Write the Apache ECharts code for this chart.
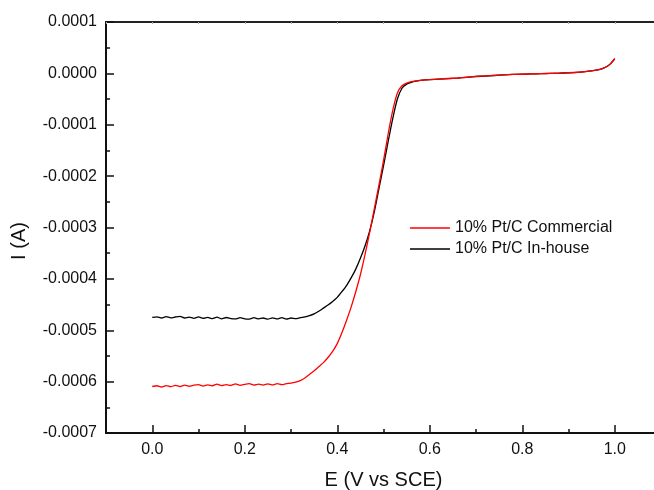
<!DOCTYPE html>
<html>
<head>
<meta charset="utf-8">
<script src="https://cdn.jsdelivr.net/npm/echarts@6/dist/echarts.min.js"></script>
<style>
  html, body { margin: 0; padding: 0; background: #fff; }
  #chart { width: 654px; height: 490px; }
</style>
</head>
<body>
<div id="chart"></div>
<script>
// Linear sweep voltammetry of two 10% Pt/C catalysts (current vs potential)
const potentialV = [
  0.00, 0.01, 0.02, 0.03, 0.04, 0.05, 0.06, 0.07, 0.08, 0.09,
  0.10, 0.11, 0.12, 0.13, 0.14, 0.15, 0.16, 0.17, 0.18, 0.19,
  0.20, 0.21, 0.22, 0.23, 0.24, 0.25, 0.26, 0.27, 0.28, 0.29,
  0.30, 0.31, 0.32, 0.33, 0.34, 0.35, 0.36, 0.37, 0.38, 0.39,
  0.40, 0.41, 0.42, 0.43, 0.44, 0.45, 0.46, 0.47, 0.48, 0.49,
  0.50, 0.51, 0.52, 0.53, 0.54, 0.55, 0.56, 0.57, 0.58, 0.59,
  0.60, 0.62, 0.64, 0.66, 0.68, 0.70, 0.72, 0.74, 0.76, 0.78,
  0.80, 0.82, 0.84, 0.86, 0.88, 0.90, 0.92, 0.94, 0.96, 0.97,
  0.98, 0.99, 1.00
];

const commercialA = [
  -6.095e-4, -6.080e-4, -6.105e-4, -6.078e-4, -6.098e-4, -6.072e-4, -6.095e-4, -6.068e-4, -6.090e-4, -6.070e-4,
  -6.060e-4, -6.088e-4, -6.062e-4, -6.080e-4, -6.048e-4, -6.078e-4, -6.058e-4, -6.075e-4, -6.045e-4, -6.072e-4,
  -6.052e-4, -6.040e-4, -6.070e-4, -6.050e-4, -6.068e-4, -6.042e-4, -6.065e-4, -6.040e-4, -6.060e-4, -6.040e-4,
  -6.030e-4, -6.010e-4, -5.980e-4, -5.930e-4, -5.860e-4, -5.790e-4, -5.710e-4, -5.630e-4, -5.530e-4, -5.410e-4,
  -5.260e-4, -5.050e-4, -4.810e-4, -4.550e-4, -4.250e-4, -3.920e-4, -3.530e-4, -3.100e-4, -2.640e-4, -2.180e-4,
  -1.700e-4, -1.180e-4, -0.720e-4, -0.380e-4, -0.240e-4, -0.190e-4, -0.160e-4, -0.145e-4, -0.135e-4, -0.127e-4,
  -0.120e-4, -0.110e-4, -0.100e-4, -0.090e-4, -0.075e-4, -0.060e-4, -0.050e-4, -0.040e-4, -0.030e-4, -0.020e-4,
  -0.015e-4, -0.010e-4, -0.005e-4, 0.000e-4, 0.005e-4, 0.012e-4, 0.022e-4, 0.038e-4, 0.065e-4, 0.085e-4,
  0.120e-4, 0.180e-4, 0.287e-4
];

const inHouseA = [
  -4.750e-4, -4.738e-4, -4.762e-4, -4.735e-4, -4.758e-4, -4.742e-4, -4.730e-4, -4.762e-4, -4.745e-4, -4.768e-4,
  -4.740e-4, -4.770e-4, -4.750e-4, -4.775e-4, -4.745e-4, -4.778e-4, -4.752e-4, -4.772e-4, -4.780e-4, -4.755e-4,
  -4.778e-4, -4.782e-4, -4.755e-4, -4.780e-4, -4.762e-4, -4.785e-4, -4.758e-4, -4.780e-4, -4.755e-4, -4.782e-4,
  -4.762e-4, -4.775e-4, -4.755e-4, -4.740e-4, -4.715e-4, -4.680e-4, -4.630e-4, -4.570e-4, -4.510e-4, -4.440e-4,
  -4.360e-4, -4.250e-4, -4.130e-4, -3.980e-4, -3.810e-4, -3.600e-4, -3.360e-4, -3.070e-4, -2.700e-4, -2.250e-4,
  -1.800e-4, -1.330e-4, -0.880e-4, -0.500e-4, -0.290e-4, -0.210e-4, -0.175e-4, -0.152e-4, -0.138e-4, -0.128e-4,
  -0.121e-4, -0.111e-4, -0.101e-4, -0.091e-4, -0.076e-4, -0.061e-4, -0.051e-4, -0.041e-4, -0.031e-4, -0.021e-4,
  -0.016e-4, -0.011e-4, -0.006e-4, -0.001e-4, 0.004e-4, 0.011e-4, 0.021e-4, 0.037e-4, 0.064e-4, 0.084e-4,
  0.119e-4, 0.180e-4, 0.285e-4
];

const seriesNames = ['10% Pt/C Commercial', '10% Pt/C In-house'];
const xTitle = 'E (V vs SCE)';
const yTitle = 'I (A)';

const pairs = (ys) => potentialV.map((x, i) => [x, ys[i]]);
const FONT = 'Arial, "Liberation Sans", Helvetica, sans-serif';

const chart = echarts.init(document.getElementById('chart'), null, { renderer: 'canvas' });

chart.setOption({
  animation: false,
  backgroundColor: '#fff',
  textStyle: { fontFamily: FONT },
  grid: { left: 106, right: -7, top: 22, bottom: 57, outerBoundsMode: 'none', containLabel: false },
  legend: {
    data: seriesNames,
    orient: 'vertical',
    left: 410,
    top: 220,
    padding: 0,
    icon: 'rect',
    itemWidth: 40,
    itemHeight: 1.5,
    itemGap: 5,
    textStyle: { fontFamily: FONT, fontSize: 16, color: '#111' }
  },
  xAxis: [
    {
      type: 'value',
      position: 'bottom',
      min: -0.1,
      max: 1.1,
      name: xTitle,
      nameLocation: 'middle',
      nameGap: 37,
      nameTextStyle: { fontFamily: FONT, fontSize: 20, color: '#111' },
      axisLine: { show: true, onZero: false, lineStyle: { color: '#111', width: 2 } },
      axisTick: { show: true, inside: true, length: 8, lineStyle: { color: '#111', width: 1.5 } },
      axisLabel: {
        fontFamily: FONT, fontSize: 16, color: '#111', margin: 9,
        formatter: (v) => (v < -0.05 || v > 1.05) ? '' : v.toFixed(1)
      },
      splitLine: { show: false }
    },
    {
      // minor ticks halfway between the labelled potentials
      type: 'value',
      position: 'bottom',
      min: -0.1,
      max: 1.1,
      interval: 0.2,
      axisLine: { show: false, onZero: false },
      axisTick: { show: true, inside: true, length: 4, lineStyle: { color: '#111', width: 1.5 } },
      axisLabel: { show: false },
      splitLine: { show: false }
    },
    {
      // top frame
      type: 'value',
      position: 'top',
      min: -0.1,
      max: 1.1,
      interval: 0.1,
      axisLine: { show: true, onZero: false, lineStyle: { color: '#222', width: 2 } },
      axisTick: { show: true, inside: true, length: 2, lineStyle: { color: '#aaa', width: 1 } },
      axisLabel: { show: false },
      splitLine: { show: false }
    }
  ],
  yAxis: {
    type: 'value',
    min: -0.0007,
    max: 0.0001,
    interval: 0.0001,
    axisLine: { show: true, onZero: false, lineStyle: { color: '#111', width: 2 } },
    axisTick: { show: true, inside: true, length: 8, lineStyle: { color: '#111', width: 1.5 } },
    minorTick: { show: true, splitNumber: 2, length: 4, lineStyle: { color: '#111', width: 1.5 } },
    axisLabel: {
      fontFamily: FONT, fontSize: 16, color: '#111', margin: 9,
      formatter: (v) => Math.abs(v) < 1e-12 ? '0.0000' : v.toFixed(4)
    },
    splitLine: { show: false }
  },
  graphic: [
    {
      type: 'text',
      x: 19,
      y: 241,
      rotation: Math.PI / 2,
      style: {
        text: yTitle,
        fontFamily: FONT,
        fontSize: 20,
        fill: '#111',
        align: 'center',
        verticalAlign: 'middle'
      }
    }
  ],
  series: [
    {
      name: seriesNames[1],
      type: 'line',
      xAxisIndex: 0,
      data: pairs(inHouseA),
      showSymbol: false,
      symbol: 'none',
      smooth: 0.2,
      lineStyle: { color: '#000', width: 1.3 },
      itemStyle: { color: '#000' },
      z: 2
    },
    {
      name: seriesNames[0],
      type: 'line',
      xAxisIndex: 0,
      data: pairs(commercialA),
      showSymbol: false,
      symbol: 'none',
      smooth: 0.2,
      lineStyle: { color: '#ff0000', width: 1.3 },
      itemStyle: { color: '#ff0000' },
      z: 3
    }
  ]
});
</script>
</body>
</html>
